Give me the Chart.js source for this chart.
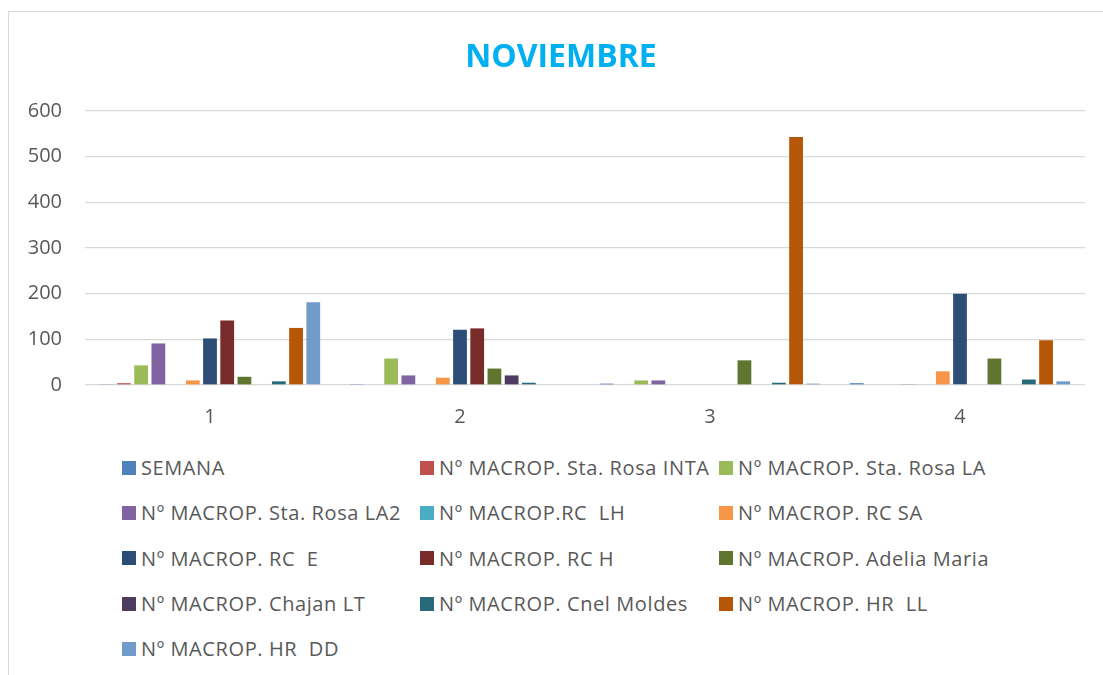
<!DOCTYPE html>
<html>
<head>
<meta charset="utf-8">
<script src="https://cdn.jsdelivr.net/npm/chart.js@4.4.0/dist/chart.umd.min.js"></script>
<style>
  html, body { margin: 0; padding: 0; background: #fff; }
  body { width: 1103px; height: 675px; position: relative; overflow: hidden; }
  #frame { position: absolute; left: 8px; top: 11px; width: 1200px; height: 700px; border: 1px solid #d9d9d9; box-sizing: border-box; }
  #title { position: absolute; left: 361px; width: 400px; top: 33px; text-align: center; font-family: "Open Sans", sans-serif; font-weight: bold; font-size: 32px; line-height: 44px; color: #00B0F0; }
  #wrap { position: absolute; left: 0; top: 0; width: 1103px; height: 442px; }
  #legend { position: absolute; left: 122px; top: 445px; display: grid; grid-template-columns: 298px 299px 300px; row-gap: 0; font-family: "Open Sans", sans-serif; font-size: 20px; letter-spacing: 0.6px; color: #595959; }
  .item { height: 45.3px; display: flex; align-items: center; white-space: pre; }
  .sw { width: 14px; height: 14px; margin-right: 5px; flex: none; }
</style>
</head>
<body>
<div id="frame"></div>
<div id="wrap"><canvas id="c"></canvas></div>
<div id="title">NOVIEMBRE</div>
<div id="legend"></div>
<script>
const categories = ["1", "2", "3", "4"];
const yTicks = [0, 100, 200, 300, 400, 500, 600];
const seriesNames = [
  "SEMANA",
  "Nº MACROP. Sta. Rosa INTA",
  "Nº MACROP. Sta. Rosa LA",
  "Nº MACROP. Sta. Rosa LA2",
  "Nº MACROP.RC  LH",
  "Nº MACROP. RC SA",
  "Nº MACROP. RC  E",
  "Nº MACROP. RC H",
  "Nº MACROP. Adelia Maria",
  "Nº MACROP. Chajan LT",
  "Nº MACROP. Cnel Moldes",
  "Nº MACROP. HR  LL",
  "Nº MACROP. HR  DD"
];
const semana        = [1, 2, 3, 4];
const staRosaInta   = [4, 0, 0, 0];
const staRosaLA     = [43, 58, 10, 0];
const staRosaLA2    = [91, 21, 10, 1];
const rcLH          = [0, 0, 0, 0];
const rcSA          = [10, 16, 0, 30];
const rcE           = [102, 121, 0, 200];
const rcH           = [141, 124, 0, 0];
const adeliaMaria   = [18, 36, 54, 58];
const chajanLT      = [0, 21, 0, 0];
const cnelMoldes    = [8, 5, 5, 12];
const hrLL          = [125, 0, 543, 98];
const hrDD          = [181, 0, 3, 8];
const seriesValues = [semana, staRosaInta, staRosaLA, staRosaLA2, rcLH, rcSA, rcE, rcH, adeliaMaria, chajanLT, cnelMoldes, hrLL, hrDD];
const colors = ["#4F81BD", "#C0504D", "#9BBB59", "#8064A2", "#4BACC6", "#F79646", "#2C4D75", "#772C2A", "#5F7530", "#4D3B62", "#276A7C", "#B65708", "#729ACA"];

const datasets = seriesNames.map((name, i) => ({
  label: name,
  data: seriesValues[i],
  backgroundColor: colors[i],
  borderWidth: 0,
  categoryPercentage: 0.895,
  barPercentage: 0.8
}));

new Chart(document.getElementById('c'), {
  type: 'bar',
  data: { labels: categories, datasets },
  options: {
    responsive: true,
    maintainAspectRatio: false,
    animation: false,
    layout: { padding: { left: 0, right: 18, top: 111, bottom: 0 } },
    plugins: {
      legend: { display: false },
      tooltip: { enabled: false },
      title: { display: false }
    },
    scales: {
      x: {
        grid: { display: false, drawTicks: false },
        border: { display: false },
        ticks: { color: '#595959', font: { family: '"Open Sans", sans-serif', size: 20 }, padding: 20 },
        afterFit: (s) => { s.height = 57; }
      },
      y: {
        min: 0, max: 600,
        afterBuildTicks: (s) => { s.ticks = yTicks.map(v => ({ value: v })); },
        grid: { color: '#d9d9d9', lineWidth: 1.3, drawTicks: false },
        border: { display: false },
        ticks: { color: '#595959', font: { family: '"Open Sans", sans-serif', size: 20 }, padding: 23 },
        afterFit: (s) => { s.width = 85; }
      }
    }
  }
});

const legend = document.getElementById('legend');
seriesNames.forEach((name, i) => {
  const it = document.createElement('div');
  it.className = 'item';
  const sw = document.createElement('span');
  sw.className = 'sw';
  sw.style.background = colors[i];
  const tx = document.createElement('span');
  tx.textContent = name;
  it.appendChild(sw);
  it.appendChild(tx);
  legend.appendChild(it);
});
</script>
</body>
</html>
